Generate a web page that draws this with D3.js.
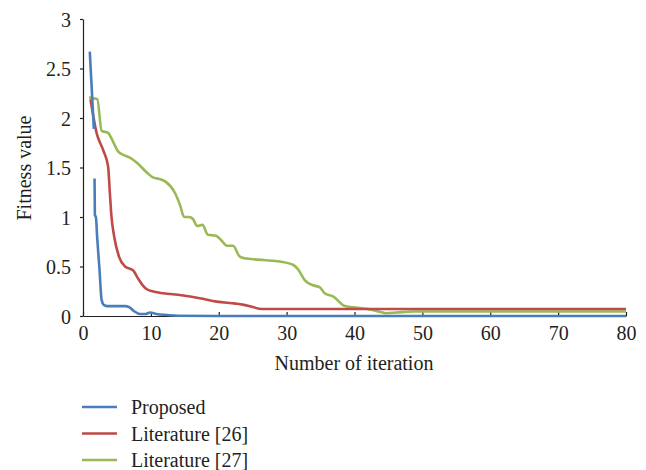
<!DOCTYPE html>
<html>
<head>
<meta charset="utf-8">
<script src="https://cdn.jsdelivr.net/npm/d3@7"></script>
<style>
  body { margin: 0; background: #fff; }
  text { font-family: "Liberation Serif", "DejaVu Serif", serif; fill: #231f20; }
</style>
</head>
<body>
<script>
// series (x = iteration, y = fitness)
const proposedX = [1, 1.6, null, 1.7, 1.75, 1.9, 2.1, 2.4, 2.75, 3.1, 3.6, 5, 6.2, 6.8, 7.5, 8.4, 9.2, 9.9, 10.8, 12.4, 14, 20, 40, 80];
const proposedY = [2.67, 1.89, null, 1.39, 1.02, 1.0, 0.78, 0.5, 0.16, 0.11, 0.1, 0.1, 0.1, 0.09, 0.05, 0.02, 0.02, 0.035, 0.02, 0.01, 0.003, 0, 0, 0];

const lit26X = [1.1, 2, 3, 3.7, 3.95, 4.2, 4.6, 5.3, 6.2, 7.4, 8.1, 8.8, 9.4, 10.5, 11.8, 14.5, 17.2, 19.7, 22.5, 23.5, 25, 26.3, 30, 40, 50, 60, 70, 80];
const lit26Y = [2.19, 1.85, 1.67, 1.51, 1.25, 1.0, 0.8, 0.6, 0.5, 0.46, 0.38, 0.31, 0.27, 0.245, 0.23, 0.21, 0.18, 0.145, 0.125, 0.115, 0.09, 0.07, 0.07, 0.07, 0.07, 0.07, 0.07, 0.07];

const lit27X = [0.9, 1.5, 2.1, 2.75, 3.7, 4.3, 5.2, 6.2, 6.9, 7.9, 9.4, 10.3, 11.2, 12.1, 13.5, 14.3, 14.9, 15.6, 16.2, 16.8, 17.6, 18.4, 19.6, 20.3, 21.2, 22.1, 23.1, 24.1, 26.6, 29, 31, 31.7, 32.7, 33.9, 34.9, 35.6, 36.9, 38.6, 39.8, 42.3, 43.7, 44.7, 46.2, 48.6, 55, 65, 80];
const lit27Y = [2.21, 2.2, 2.19, 1.87, 1.85, 1.78, 1.66, 1.62, 1.6, 1.55, 1.45, 1.4, 1.385, 1.36, 1.25, 1.12, 1.0, 1.0, 0.98, 0.91, 0.92, 0.82, 0.81, 0.77, 0.71, 0.71, 0.6, 0.58, 0.565, 0.55, 0.515, 0.47, 0.36, 0.31, 0.29, 0.23, 0.195, 0.1, 0.088, 0.067, 0.043, 0.028, 0.035, 0.045, 0.045, 0.045, 0.045];

const xTicks = [0, 10, 20, 30, 40, 50, 60, 70, 80];
const yTicks = [0, 0.5, 1, 1.5, 2, 2.5, 3];
const seriesNames = ["Proposed", "Literature [26]", "Literature [27]"];
const seriesColors = ["#4a7ebb", "#be4b48", "#98b954"];

const width = 646, height = 470;
const fontSize = 20;

const svg = d3.select("body").append("svg")
    .attr("width", width)
    .attr("height", height);

// scales
const x = d3.scaleLinear().domain([0, 80]).range([83, 626]);
const y = d3.scaleLinear().domain([0, 3]).range([316, 19]);

// axes
const xAxis = d3.axisBottom(x).tickValues(xTicks).tickSizeInner(-4).tickSizeOuter(0).tickPadding(10);
const yAxis = d3.axisLeft(y).tickValues(yTicks).tickFormat(d3.format("~g"))
    .tickSizeInner(3).tickSizeOuter(0).tickPadding(9);

const gx = svg.append("g")
    .attr("transform", `translate(0, ${y(0)})`)
    .call(xAxis);
gx.selectAll("text").attr("font-size", fontSize).attr("dy", "0.72em");

const gy = svg.append("g")
    .attr("transform", `translate(${x(0)}, 0)`)
    .call(yAxis);
gy.selectAll("text").attr("font-size", fontSize).attr("dy", "0.35em");

svg.selectAll(".domain, .tick line").attr("stroke", "#231f20").attr("stroke-width", 1.2);

// axis titles
svg.append("text")
    .attr("x", 354)
    .attr("y", 370)
    .attr("text-anchor", "middle")
    .attr("font-size", fontSize)
    .text("Number of iteration");

svg.append("text")
    .attr("transform", "translate(31, 168) rotate(-90)")
    .attr("text-anchor", "middle")
    .attr("font-size", fontSize)
    .text("Fitness value");

// lines
const line = d3.line()
    .defined(d => d[0] != null && d[1] != null)
    .x(d => x(d[0]))
    .y(d => y(d[1]))
    .curve(d3.curveMonotoneX);

const series = [
  d3.zip(proposedX, proposedY),
  d3.zip(lit26X, lit26Y),
  d3.zip(lit27X, lit27Y)
];

// draw green first, then red, then blue on top
[2, 1, 0].forEach(i => {
  svg.append("path")
      .datum(series[i])
      .attr("fill", "none")
      .attr("stroke", seriesColors[i])
      .attr("stroke-width", 2.6)
      .attr("stroke-linejoin", "round")
      .attr("d", line);
});

// legend
const legend = svg.append("g");
seriesNames.forEach((name, i) => {
  const ly = 407 + i * 26.5;
  legend.append("line")
      .attr("x1", 82).attr("x2", 117)
      .attr("y1", ly).attr("y2", ly)
      .attr("stroke", seriesColors[i])
      .attr("stroke-width", 2.6);
  legend.append("text")
      .attr("x", 131)
      .attr("y", ly)
      .attr("dy", "0.35em")
      .attr("font-size", fontSize)
      .text(name);
});
</script>
</body>
</html>
